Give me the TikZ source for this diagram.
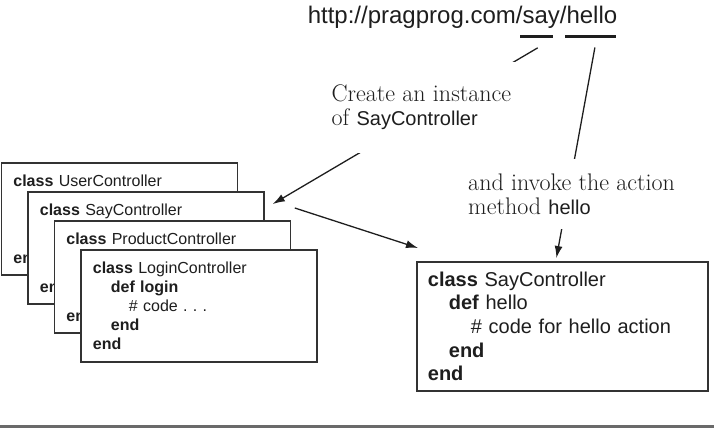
\documentclass[tikz,border=0pt]{standalone}
\usepackage{fontspec}
\setsansfont{Liberation Sans}
\usepackage{tikz}
\usetikzlibrary{arrows.meta,positioning,calc}
\definecolor{Frame}{HTML}{333333}
\definecolor{Ink}{HTML}{1E1E1E}
\definecolor{Rule}{HTML}{6A6A6A}
\newcommand{\ctrlname}[1]{{\sffamily\fontsize{20}{24}\selectfont #1}}

\begin{document}
\begin{tikzpicture}[x=1pt,y=-1pt,>={Latex[length=12pt,width=8pt]}]
  \tikzset{ctrl/.style={draw=Frame,line width=1.8pt,fill=white,anchor=north west,text=Ink,align=left,
                        text width=212pt,inner xsep=12pt,inner ysep=0pt,minimum height=112pt,
                        font=\sffamily\fontsize{16}{19}\selectfont},
           url/.style={text=Ink,inner sep=0pt,font=\sffamily\fontsize{24}{28}\selectfont},
           bar/.style={fill=Ink,inner sep=0pt,minimum height=3pt},
           note/.style={fill=white,align=left,inner xsep=8pt,text=Ink,font=\fontsize{24}{24}\selectfont},
           lead/.style={draw=Ink,line width=1.3pt}}
  \useasboundingbox (0,0) rectangle (714,428);
  \node[url] (url) at (462.5,17) {http://pragprog.com/say/hello};
  \node[bar,minimum width=33pt] (say) at (536.5,37) {};
  \node[bar,minimum width=51pt] (hello) at (590.5,37) {};
  \foreach \n/\cls [count=\i] in {b1/UserController,b2/SayController,b3/ProductController}
    \node[ctrl] (\n) at ({0.5+26.5*(\i-1)},{162+29*(\i-1)}) {\textbf{class} \cls\\[58pt]\textbf{end}};
  \node[ctrl] (b4) at (80,249) {\textbf{class} LoginController\\
    \hspace*{18pt}\textbf{def login}\\
    \hspace*{36pt}\# code .\ .\ .\\
    \hspace*{18pt}\textbf{end}\\
    \textbf{end}};
  \node[ctrl,text width=269pt,inner xsep=11pt,minimum height=129pt,font=\sffamily\fontsize{20}{23.6}\selectfont] (rb) at (416,261) {\textbf{class} SayController\\
    \hspace*{21pt}\textbf{def} hello\\
    \hspace*{43pt}\# code for hello action\\
    \hspace*{21pt}\textbf{end}\\
    \textbf{end}};
  \draw[->,lead,shorten <=18pt] (say.south east) -- node[note,pos=0.47,yshift=9pt,inner ysep=23pt] (inst) {Create an instance\\of \ctrlname{SayController}} ([shift={(8,13)}]b2.north east);
  \draw[->,lead,shorten <=9pt] ([xshift=6pt]hello.south) -- node[note,pos=0.708,xshift=3.5pt,inner ysep=14.5pt] (invk) {and invoke the action\\method \ctrlname{hello}} ([shift={(-6,-3)}]rb.north);
  \draw[->,lead] ([shift={(30,17)}]b2.north east) -- ([shift={(2,-13)}]rb.north west);
  \draw[Rule,line width=3pt] (0,426.5) -- (714,426.5);
\end{tikzpicture}
\end{document}
